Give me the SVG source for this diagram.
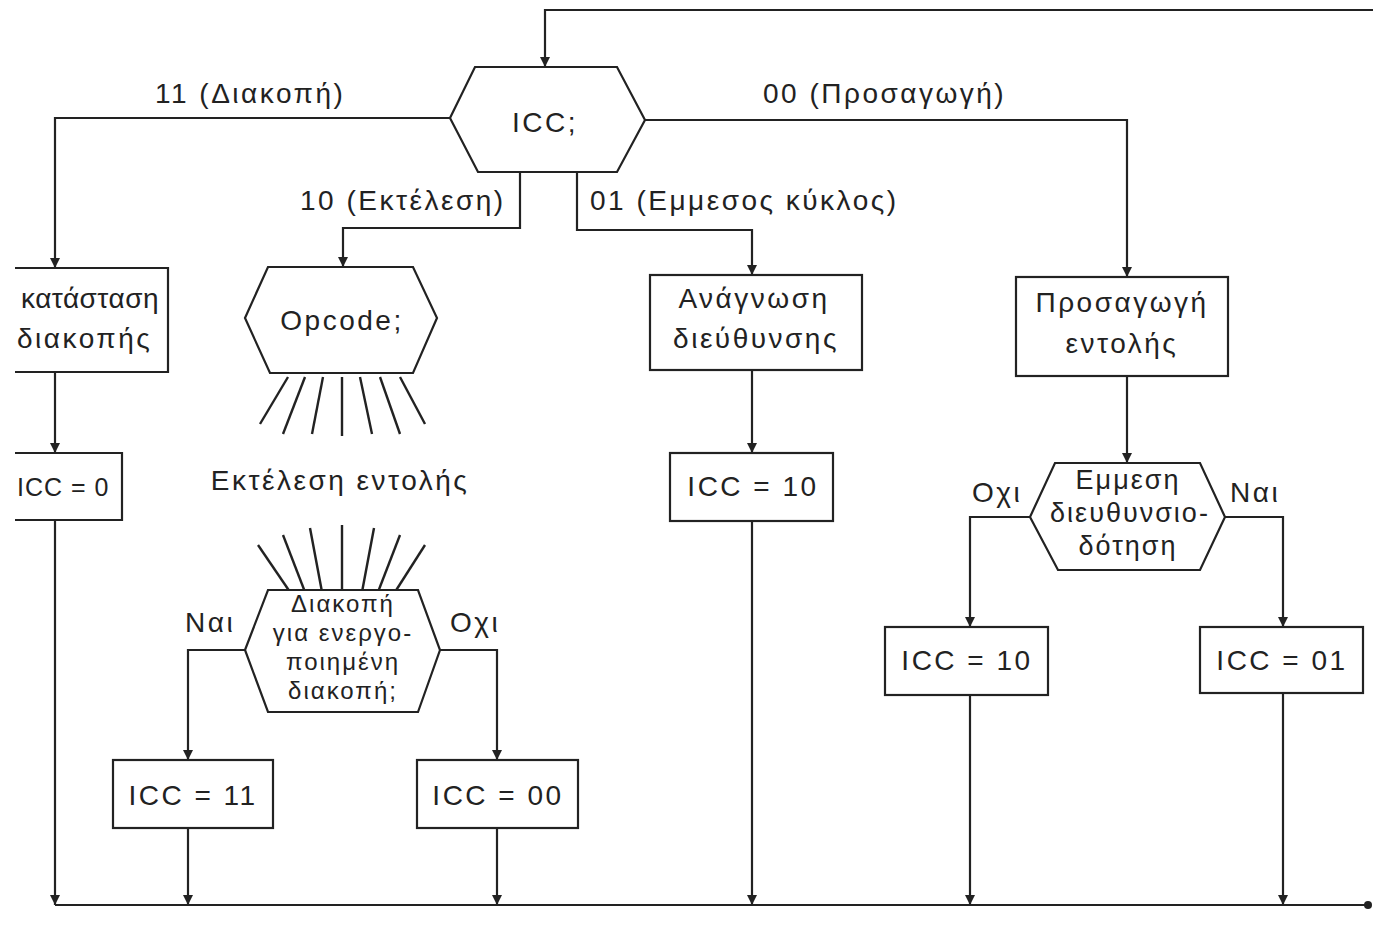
<svg xmlns="http://www.w3.org/2000/svg" width="1373" height="934" viewBox="0 0 1373 934">
<style>
.ln{fill:none;stroke:#222;stroke-width:2.2}
.nd{fill:#fff;stroke:#222;stroke-width:2.2}
.ray{stroke:#222;stroke-width:2.4}
text{font-family:"Liberation Sans","Noto Sans",sans-serif;fill:#222;font-size:28px;letter-spacing:2.5px}
.m{text-anchor:middle}
.s{font-size:24px;letter-spacing:2px}
.d{font-size:27px;letter-spacing:2px}
</style>
<defs>
<marker id="ar" viewBox="0 0 10 16" refX="10" refY="8" markerWidth="10" markerHeight="16" markerUnits="userSpaceOnUse" orient="auto">
<path d="M0,3 L10,8 L0,13 Z" fill="#222"/>
</marker>
</defs>
<rect width="1373" height="934" fill="#fff"/>
<g id="connectors">
<path class="ln" d="M1373,10 H545 V67" marker-end="url(#ar)"/>
<path class="ln" d="M450,118 H55 V268" marker-end="url(#ar)"/>
<path class="ln" d="M55,372 V453" marker-end="url(#ar)"/>
<path class="ln" d="M55,520 V905" marker-end="url(#ar)"/>
<path class="ln" d="M520,172 V228 H343 V267" marker-end="url(#ar)"/>
<path class="ln" d="M577,172 V230 H752 V275" marker-end="url(#ar)"/>
<path class="ln" d="M645,120 H1127 V277" marker-end="url(#ar)"/>
<path class="ln" d="M245,650 H188 V760" marker-end="url(#ar)"/>
<path class="ln" d="M440,650 H497 V760" marker-end="url(#ar)"/>
<path class="ln" d="M188,828 V905" marker-end="url(#ar)"/>
<path class="ln" d="M497,828 V905" marker-end="url(#ar)"/>
<path class="ln" d="M752,370 V453" marker-end="url(#ar)"/>
<path class="ln" d="M752,521 V905" marker-end="url(#ar)"/>
<path class="ln" d="M1127,376 V463" marker-end="url(#ar)"/>
<path class="ln" d="M1030,517 H970 V627" marker-end="url(#ar)"/>
<path class="ln" d="M1225,517 H1283 V627" marker-end="url(#ar)"/>
<path class="ln" d="M970,695 V905" marker-end="url(#ar)"/>
<path class="ln" d="M1283,693 V905" marker-end="url(#ar)"/>
<path class="ln" d="M55,905 H1368"/>
<circle cx="1368" cy="905" r="4" fill="#222"/>
<text x="155" y="103">11 (Διακοπή)</text>
<text x="763" y="103">00 (Προσαγωγή)</text>
<text x="300" y="210">10 (Εκτέλεση)</text>
<text x="590" y="210">01 (Εμμεσος κύκλος)</text>
<text x="185" y="632">Ναι</text>
<text x="450" y="632">Οχι</text>
<text x="972" y="502">Οχι</text>
<text x="1230" y="502">Ναι</text>
</g>
<g id="n-icc">
<polygon class="nd" points="450,118 475,67 617,67 645,120 617,172 478,172"/>
<text class="m" x="545" y="132">ICC;</text>
</g>
<g id="n-restore">
<path class="nd" d="M15,268 H168 V372 H15"/>
<text x="21" y="308" textLength="140" lengthAdjust="spacing">κατάσταση</text>
<text x="17" y="348">διακοπής</text>
</g>
<g id="n-icc0">
<path class="nd" d="M15,453 H122 V520 H15"/>
<text x="17" y="496" style="font-size:25px;letter-spacing:1px">ICC = 0</text>
</g>
<g id="n-opcode">
<polygon class="nd" points="245,318 268,267 413,267 437,318 413,373 270,373"/>
<text class="m" x="342" y="330">Opcode;</text>
<line class="ray" x1="288" y1="377" x2="260" y2="424"/>
<line class="ray" x1="305" y1="377" x2="283" y2="434"/>
<line class="ray" x1="323" y1="377" x2="312" y2="434"/>
<line class="ray" x1="342" y1="377" x2="342" y2="436"/>
<line class="ray" x1="360" y1="377" x2="372" y2="434"/>
<line class="ray" x1="380" y1="377" x2="400" y2="434"/>
<line class="ray" x1="400" y1="377" x2="425" y2="424"/>
</g>
<g id="n-exec">
<text class="m" x="340" y="490">Εκτέλεση εντολής</text>
</g>
<g id="n-int-check">
<line class="ray" x1="258" y1="545" x2="290" y2="592"/>
<line class="ray" x1="283" y1="535" x2="305" y2="592"/>
<line class="ray" x1="310" y1="528" x2="322" y2="592"/>
<line class="ray" x1="342" y1="525" x2="342" y2="592"/>
<line class="ray" x1="374" y1="528" x2="362" y2="592"/>
<line class="ray" x1="400" y1="535" x2="378" y2="592"/>
<line class="ray" x1="425" y1="545" x2="395" y2="592"/>
<polygon class="nd" points="245,650 268,590 418,590 440,650 418,712 268,712"/>
<text class="m s" x="343" y="612">Διακοπή</text>
<text class="m s" x="343" y="641">για ενεργο-</text>
<text class="m s" x="343" y="670">ποιημένη</text>
<text class="m s" x="343" y="699">διακοπή;</text>
</g>
<g id="n-icc11">
<rect class="nd" x="113" y="760" width="160" height="68"/>
<text class="m" x="193" y="805">ICC = 11</text>
</g>
<g id="n-icc00">
<rect class="nd" x="417" y="760" width="161" height="68"/>
<text class="m" x="498" y="805">ICC = 00</text>
</g>
<g id="n-read">
<rect class="nd" x="650" y="275" width="212" height="95"/>
<text class="m" x="754" y="308">Ανάγνωση</text>
<text class="m" x="756" y="348">διεύθυνσης</text>
</g>
<g id="n-icc10a">
<rect class="nd" x="670" y="453" width="163" height="68"/>
<text class="m" x="753" y="496">ICC = 10</text>
</g>
<g id="n-fetch">
<rect class="nd" x="1016" y="277" width="212" height="99"/>
<text class="m" x="1122" y="312">Προσαγωγή</text>
<text class="m" x="1122" y="353">εντολής</text>
</g>
<g id="n-indirect">
<polygon class="nd" points="1030,517 1055,463 1200,463 1225,517 1200,570 1058,570"/>
<text class="m d" x="1128" y="489">Εμμεση</text>
<text class="m d" x="1130" y="522">διευθυνσιο-</text>
<text class="m d" x="1128" y="555">δότηση</text>
</g>
<g id="n-icc10b">
<rect class="nd" x="885" y="627" width="163" height="68"/>
<text class="m" x="967" y="670">ICC = 10</text>
</g>
<g id="n-icc01">
<rect class="nd" x="1200" y="627" width="163" height="66"/>
<text class="m" x="1282" y="670">ICC = 01</text>
</g>
</svg>
